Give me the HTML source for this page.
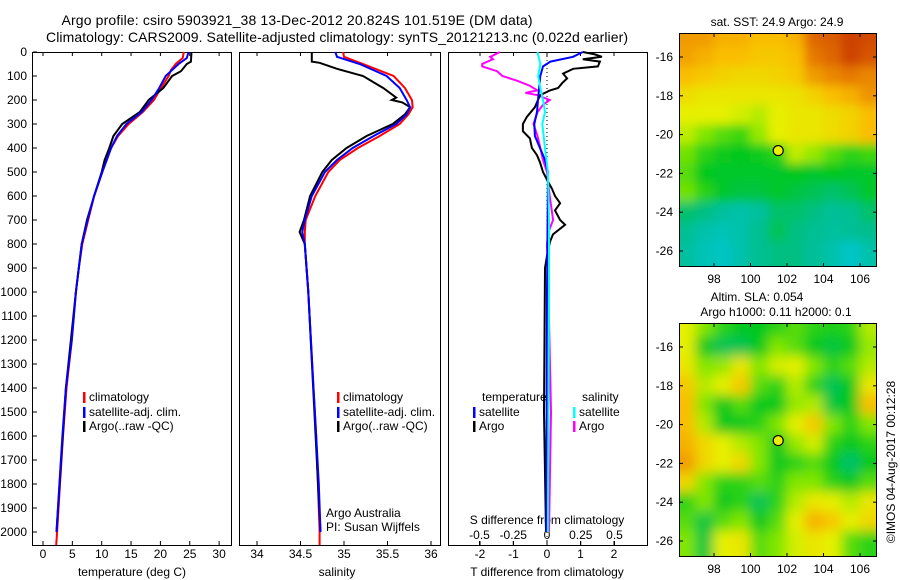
<!DOCTYPE html>
<html><head><meta charset="utf-8"><style>
body{margin:0;background:#fff}
svg{display:block;font-family:"Liberation Sans",sans-serif}
text{font-size:12px;fill:#000}
</style></head><body>
<svg id="c" width="900" height="580" viewBox="0 0 900 580">
<defs>
<filter id="bl" filterUnits="userSpaceOnUse" x="600" y="0" width="300" height="600"><feGaussianBlur stdDeviation="5"/></filter>
<filter id="bl2" filterUnits="userSpaceOnUse" x="600" y="0" width="300" height="600"><feGaussianBlur stdDeviation="6"/></filter>
<clipPath id="m1"><rect x="679" y="33" width="198" height="234"/></clipPath>
<clipPath id="m2"><rect x="679" y="323" width="198" height="234"/></clipPath>
</defs>
<text x="297" y="25" text-anchor="middle" textLength="471" style="font-size:14px">Argo profile: csiro 5903921_38 13-Dec-2012 20.824S 101.519E (DM data)</text>
<text x="337" y="42" text-anchor="middle" textLength="582" style="font-size:14px">Climatology: CARS2009. Satellite-adjusted climatology: synTS_20121213.nc (0.022d earlier)</text>
<g id="g"></g>
</svg>
<script>
// ---- data ----
const tDepth=[0,25,50,75,100,150,200,250,300,350,400,500,600,700,800,900,1000,1200,1400,1600,1800,2000];
const tSat=[24.8,24.5,23.1,22,20.9,19.8,18.5,16.8,14.2,12.6,11.6,10.1,8.7,7.6,6.6,6.1,5.6,4.9,3.9,3.3,2.8,2.3];
const tClim=[24.0,23.8,22.6,21.8,21.4,20.1,18.9,17.0,14.6,12.8,11.6,10.1,8.7,7.7,6.7,6.1,5.6,4.9,4.0,3.4,2.9,2.4];
const aDepth=[0,40,50,80,100,150,200,250,300,350,400,450,500,600,700,800,1000,1400,2000];
const tArgo=[25.3,25.2,24.5,23.5,22,20.5,18,16.5,13.5,12,11.3,10.5,10,8.7,7.5,6.6,5.6,3.9,2.3];
const sDepth=[0,20,50,100,150,200,230,260,300,350,400,450,500,600,700,750,800,1000,1400,1600,1800,2000];
const sSat=[34.90,34.92,35.18,35.49,35.64,35.72,35.76,35.72,35.60,35.34,35.10,34.92,34.78,34.63,34.55,34.52,34.55,34.59,34.65,34.68,34.71,34.73];
const sClim=[34.99,35.0,35.22,35.57,35.70,35.78,35.79,35.74,35.64,35.41,35.16,34.95,34.82,34.67,34.56,34.55,34.55,34.59,34.65,34.68,34.70,34.72];
const saDepth=[0,40,45,70,100,150,190,200,210,230,260,300,350,400,450,500,600,700,750,800,1000,2000];
const sArgo=[34.63,34.63,34.72,34.92,35.22,35.45,35.60,35.55,35.67,35.76,35.70,35.56,35.26,35.03,34.86,34.75,34.61,34.54,34.49,34.55,34.59,34.73];
const dtDepth=[0,20,40,60,100,200,250,300,350,400,450,500,1000,2000];
const dtSat=[1.07,0.78,0.1,-0.12,-0.2,-0.27,-0.3,-0.38,-0.36,-0.21,-0.06,0.03,0.0,-0.02];
const daDepth=[0,10,20,30,40,60,70,90,110,130,150,160,180,200,230,270,300,330,360,400,430,460,500,540,570,600,630,660,700,720,760,790,850,900,1500,2000];
const dtArgo=[1.07,1.43,1.64,1.07,1.58,1.52,0.78,0.48,0.6,0.45,0.33,0.09,-0.21,-0.27,-0.36,-0.6,-0.72,-0.72,-0.51,-0.45,-0.3,-0.21,-0.12,0.03,0.15,0.24,0.39,0.24,0.39,0.54,0.18,0.09,0,-0.06,-0.09,-0.03];
const dsDepth=[0,50,100,150,200,250,300,400,500,700,1000,2000];
const dsSat=[-0.07,-0.05,-0.065,-0.05,-0.03,-0.015,-0.035,-0.015,0.007,0.015,0.015,0.007];
const dsaDepth=[0,20,30,50,60,80,100,120,140,160,170,180,200,220,250,300,350,400,450,500,600,700,750,800,1000,1500,2000];
const dsArgo=[-0.35,-0.42,-0.4,-0.48,-0.48,-0.37,-0.33,-0.22,-0.13,-0.07,-0.16,-0.07,0.02,-0.03,-0.07,-0.1,-0.07,-0.05,-0.03,0,0.02,0.045,0.01,0,0.01,0.03,0.015];
const depthTicks=[0,100,200,300,400,500,600,700,800,900,1000,1100,1200,1300,1400,1500,1600,1700,1800,1900,2000];
const tTicks=[0,5,10,15,20,25,30];
const sTicks=[34,34.5,35,35.5,36];
const dtTicks=[-2,-1,0,1,2];
const dsTicks=[-0.5,-0.25,0,0.25,0.5];
const dsTickLabels=["-0.5","-0.25","0","0.25","0.5"];
const latTicks=[-16,-18,-20,-22,-24,-26];
const lonTicks=[98,100,102,104,106];
const sstGrid=[
[.85,.85,.82,.82,.8,.8,.82,.92,.93,.96,.95],
[.84,.82,.8,.8,.78,.78,.8,.9,.92,.96,.94],
[.8,.78,.76,.75,.75,.76,.78,.85,.88,.9,.88],
[.74,.72,.72,.72,.72,.72,.73,.76,.8,.82,.86],
[.7,.7,.7,.68,.65,.7,.72,.72,.74,.76,.8],
[.66,.6,.55,.52,.62,.7,.72,.72,.74,.76,.8],
[.58,.5,.46,.45,.47,.5,.66,.62,.55,.5,.52],
[.55,.45,.44,.44,.44,.44,.45,.44,.45,.44,.44],
[.58,.5,.44,.42,.42,.44,.42,.40,.38,.40,.44],
[.38,.36,.32,.3,.32,.38,.38,.36,.33,.34,.38],
[.34,.3,.28,.3,.34,.4,.36,.34,.32,.33,.35],
[.32,.28,.26,.3,.34,.36,.36,.33,.3,.25,.3]];
const slaGrid=[
[.7,.6,.5,.45,.45,.5,.55,.5,.48,.5,.65],
[.7,.45,.4,.4,.45,.6,.55,.45,.42,.45,.62],
[.72,.6,.62,.72,.6,.68,.7,.6,.5,.55,.65],
[.78,.65,.7,.78,.55,.5,.65,.5,.4,.45,.72],
[.8,.6,.45,.55,.45,.45,.62,.65,.42,.45,.8],
[.8,.65,.45,.45,.5,.6,.7,.78,.6,.5,.6],
[.82,.75,.7,.65,.6,.45,.62,.68,.5,.45,.5],
[.85,.75,.7,.75,.6,.45,.5,.55,.45,.38,.45],
[.75,.6,.5,.5,.55,.5,.6,.6,.5,.45,.55],
[.5,.6,.45,.5,.4,.5,.65,.72,.7,.65,.72],
[.55,.42,.55,.6,.45,.55,.7,.82,.78,.7,.75],
[.6,.42,.7,.72,.55,.6,.68,.72,.7,.55,.5]];
const argoLon=101.519, argoLat=-20.824;

// ---- helpers ----
const NS='http://www.w3.org/2000/svg';
const G=document.getElementById('g');
function mk(tag,at,parent){const e=document.createElementNS(NS,tag);for(const k in at)e.setAttribute(k,at[k]);(parent||G).appendChild(e);return e;}
function txt(x,y,s,anchor,name,extra){const e=mk('text',Object.assign({x:x,y:y,'text-anchor':anchor||'start'},extra||{}));e.textContent=s;


return e;}
const TOP=52,BOT=545;
const yD=d=>TOP+d*0.24;
const xT=v=>43+v*5.87;
const xS=v=>257+(v-34)*87;
const xDT=v=>547+v*33.5;
const xDS=v=>547+v*135;
function line(depths,vals,fx,color,name){
  const pts=depths.map((d,i)=>fx(vals[i]).toFixed(1)+','+yD(d).toFixed(1)).join(' ');
  const e=mk('polyline',{points:pts,fill:'none',stroke:color,'stroke-width':2});
  
  
}
function frame(x0,x1,name){
  const e=mk('rect',{x:x0+.5,y:TOP+.5,width:x1-x0,height:BOT-TOP,fill:'none',stroke:'#000','stroke-width':1});
  
  
}
function xticks(ticks,fx,labels,ly,name){
  ticks.forEach((t,i)=>{const x=fx(t);
    mk('line',{x1:x,x2:x,y1:TOP,y2:TOP+4,stroke:'#000'});
    mk('line',{x1:x,x2:x,y1:BOT,y2:BOT-4,stroke:'#000'});
    if(labels)txt(x,ly,labels[i],'middle',name);});
}
function legend(x,y,color,label,name){
  const b=mk('rect',{x:x,y:y-9,width:2.5,height:11,fill:color});
  
  
  txt(x+6,y,label,'start',name);
}

// ---- panel 1 temperature ----
frame(32,231,'temperature-panel');
depthTicks.forEach(d=>{const y=yD(d);mk('line',{x1:33,x2:37,y1:y,y2:y,stroke:'#000'});txt(27,y+4,String(d),'end','depth-tick-label');});
xticks(tTicks,xT,tTicks.map(String),558,'temperature-tick-label');
txt(132,576,'temperature (deg C)','middle','temperature-axis-title');
line(tDepth.concat([2054]),tClim.concat([2.25]),xT,'#f00','temperature-climatology-line');
line(aDepth,tArgo,xT,'#000','temperature-argo-line');
line(tDepth,tSat,xT,'#00f','temperature-satellite-line');
legend(83,401,'#f00','climatology','legend-climatology');
legend(83,416,'#00f','satellite-adj. clim.','legend-satellite');
legend(83,430,'#000','Argo(..raw -QC)','legend-argo');

// ---- panel 2 salinity ----
frame(239,440,'salinity-panel');
xticks(sTicks,xS,sTicks.map(String),558,'salinity-tick-label');
txt(337,576,'salinity','middle','salinity-axis-title');
line(sDepth.concat([2054]),sClim.concat([34.72]),xS,'#f00','salinity-climatology-line');
line(saDepth,sArgo,xS,'#000','salinity-argo-line');
line(sDepth,sSat,xS,'#00f','salinity-satellite-line');
legend(337,401,'#f00','climatology','legend-climatology-2');
legend(337,416,'#00f','satellite-adj. clim.','legend-satellite-2');
legend(337,430,'#000','Argo(..raw -QC)','legend-argo-2');
txt(326,517,'Argo Australia','start','credit-argo-australia');
txt(326,531,'PI: Susan Wijffels','start','credit-pi');

// ---- panel 3 differences ----
frame(448,647,'difference-panel');
xticks(dtTicks,xDT,dtTicks.map(String),558,'t-diff-tick-label');
dsTicks.forEach((t,i)=>{const x=xDS(t);mk('line',{x1:x,x2:x,y1:BOT,y2:BOT-4,stroke:'#000'});txt(x,539,dsTickLabels[i],'middle','s-diff-tick-label');});
txt(547,576,'T difference from climatology','middle','t-diff-axis-title');
txt(547,524,'S difference from climatology','middle','s-diff-axis-title');
mk('line',{x1:547,x2:547,y1:TOP,y2:BOT,stroke:'#000','stroke-dasharray':'1,3'});
line(dsaDepth,dsArgo,xDS,'#f0f','s-diff-argo-line');
line(daDepth,dtArgo,xDT,'#000','t-diff-argo-line');
line(dtDepth,dtSat,xDT,'#00f','t-diff-satellite-line');
line(dsDepth,dsSat,xDS,'#0ff','s-diff-satellite-line');
txt(482,401,'temperature','start','legend-temperature-heading');
legend(473,416,'#00f','satellite','legend-t-satellite');
legend(473,430,'#000','Argo','legend-t-argo');
txt(582,401,'salinity','start','legend-salinity-heading');
legend(573,416,'#0ff','satellite','legend-s-satellite');
legend(573,430,'#f0f','Argo','legend-s-argo');

// ---- maps ----
const stops=[[0,[0,80,255]],[0.2,[0,200,230]],[0.35,[0,190,140]],[0.45,[0,200,30]],[0.6,[130,230,0]],[0.7,[230,240,0]],[0.8,[250,190,0]],[0.9,[230,120,0]],[1,[190,30,0]]];
function cmap(v){for(let i=1;i<stops.length;i++){if(v<=stops[i][0]){const a=stops[i-1],b=stops[i],f=(v-a[0])/(b[0]-a[0]);return 'rgb('+a[1].map((c,k)=>Math.round(c+(b[1][k]-c)*f)).join(',')+')';}}return 'rgb(190,30,0)';}
function map(y0,grid,clip,filt,name){
  const lonX=lo=>714+(lo-98)*18.25, latY=la=>y0+24+(-16-la)*19.4;
  const g=mk('g',{'clip-path':'url(#'+clip+')'});
  const g2=mk('g',{filter:'url(#'+filt+')'},g);
  const R=grid.length,C=grid[0].length;
  for(let r=-2;r<R+2;r++)for(let c=-2;c<C+2;c++){
    const rr=Math.min(R-1,Math.max(0,r)),cc=Math.min(C-1,Math.max(0,c));
    const lo=96.5+c, la=-15-r;
    const e=mk('rect',{x:lonX(lo-0.5)-0.5,y:latY(la+0.5)-0.5,width:19.25,height:20.4,fill:cmap(grid[rr][cc])},g2);
    
    
  }
  const f=mk('rect',{x:679.5,y:y0+.5,width:197,height:233,fill:'none',stroke:'#000'});
  
  
  latTicks.forEach(la=>{const y=latY(la);mk('line',{x1:679,x2:683,y1:y,y2:y,stroke:'#000'});mk('line',{x1:877,x2:873,y1:y,y2:y,stroke:'#000'});txt(673,y+4,String(la),'end',name+'-lat-label');});
  lonTicks.forEach(lo=>{const x=lonX(lo);mk('line',{x1:x,x2:x,y1:y0,y2:y0+4,stroke:'#000'});mk('line',{x1:x,x2:x,y1:y0+234,y2:y0+230,stroke:'#000'});txt(x,y0+250,String(lo),'middle',name+'-lon-label');});
  const c=mk('circle',{cx:lonX(argoLon),cy:latY(argoLat),r:5,fill:'#ee0',stroke:'#000','stroke-width':1.2});
  
  
}
map(33,sstGrid,'m1','bl','sst-map');
map(323,slaGrid,'m2','bl2','sla-map');
txt(777,26,'sat. SST: 24.9 Argo: 24.9','middle','sst-map-title');
txt(757,301,'Altim. SLA: 0.054','middle','sla-map-title');
txt(776,316,'Argo h1000: 0.11 h2000: 0.1','middle','sla-map-subtitle');
txt(0,0,'©IMOS 04-Aug-2017 00:12:28','middle','imos-timestamp',{transform:'translate(895,462) rotate(-90)'});
</script>
</body></html>
